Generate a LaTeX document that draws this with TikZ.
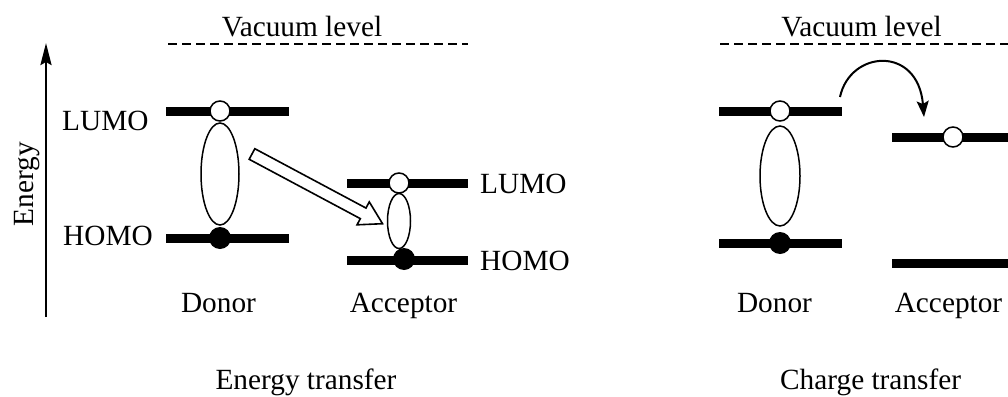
\documentclass[tikz,border=0pt]{standalone}
\usepackage{fontspec}
\setmainfont{Liberation Serif}
\usetikzlibrary{arrows.meta,shapes.geometric}
\tikzset{
  lvl/.style={line width=9pt},
  hole/.style={circle,draw,line width=1.5pt,fill=white,minimum size=20pt,inner sep=0pt},
  elec/.style={circle,fill=black,minimum size=22pt,inner sep=0pt},
  exc/.style={ellipse,draw,line width=1.5pt,inner sep=0pt},
  vac/.style={dashed,dash pattern=on 9pt off 5pt,line width=1.6pt},
  lbl/.style={font=\fontsize{29.3}{32}\selectfont,inner sep=0pt},
}
\begin{document}
\begin{tikzpicture}[x=1pt,y=-1pt]
\useasboundingbox (0,0) rectangle (1008,396);
% energy axis
\coordinate (ebot) at (46,317);
\coordinate (etop) at (46,43);
\draw[line width=2.6pt,-{Stealth[length=22pt,width=11pt,inset=3pt]}] (ebot) -- (etop);
\node[lbl,rotate=90] (energy) at (27.5,184) {Energy};
% ---------- Energy transfer ----------
\node[lbl,anchor=base] (vac1) at (302,37) {Vacuum level};
\coordinate (v1a) at (168,44); \coordinate (v1b) at (468,44);
\draw[vac] (v1a) -- (v1b);
% donor
\coordinate (dl1) at (166,111); \coordinate (dl2) at (289,111);
\coordinate (dh1) at (166,238); \coordinate (dh2) at (289,238);
\draw[lvl] (dl1) -- (dl2);
\draw[lvl] (dh1) -- (dh2);
\node[exc,minimum width=38pt,minimum height=102pt] (dex) at (220,174) {};
\node[hole] (dhole) at (220,111) {};
\node[elec] (delec) at (220,238) {};
\node[lbl,anchor=base west] (lumoL) at (62,130) {LUMO};
\node[lbl,anchor=base west] (homoL) at (63,245) {HOMO};
% acceptor
\coordinate (al1) at (347,183); \coordinate (al2) at (468,183);
\coordinate (ah1) at (347,260); \coordinate (ah2) at (468,260);
\draw[lvl] (al1) -- (al2);
\draw[lvl] (ah1) -- (ah2);
\node[exc,minimum width=23pt,minimum height=55pt] (aex) at (399,221) {};
\node[hole] (ahole) at (399,183) {};
\node[elec] (aelec) at (404,259) {};
\node[lbl,anchor=base west] (lumoR) at (480,193) {LUMO};
\node[lbl,anchor=base west] (homoR) at (480,270) {HOMO};
% hollow arrow
\begin{scope}[shift={(252,154)},rotate=-28.1]
\draw[line width=1.6pt,fill=white,line join=miter]
  (0,-6) -- (126,-6) -- (126,-13) -- (148,0) -- (126,13) -- (126,6) -- (0,6) -- cycle;
\end{scope}
\node[lbl,anchor=base] (don1) at (218.5,312) {Donor};
\node[lbl,anchor=base] (acc1) at (403.5,312) {Acceptor};
\node[lbl,anchor=base] (et) at (306,389) {Energy transfer};
% ---------- Charge transfer ----------
\node[lbl,anchor=base] (vac2) at (861.5,37) {Vacuum level};
\coordinate (v2a) at (720,44); \coordinate (v2b) at (1008,44);
\draw[vac] (v2a) -- (v2b);
\coordinate (cdl1) at (719,111); \coordinate (cdl2) at (842,111);
\coordinate (cdh1) at (719,243); \coordinate (cdh2) at (842,243);
\draw[lvl] (cdl1) -- (cdl2);
\draw[lvl] (cdh1) -- (cdh2);
\node[exc,minimum width=40pt,minimum height=100pt] (cdex) at (780,176) {};
\node[hole] (cdhole) at (780,111) {};
\node[elec] (cdelec) at (780,243) {};
\coordinate (cal1) at (892,137); \coordinate (cal2) at (1008,137);
\coordinate (cah1) at (892,263); \coordinate (cah2) at (1008,263);
\draw[lvl] (cal1) -- (cal2);
\draw[lvl] (cah1) -- (cah2);
\node[hole] (cahole) at (953,137) {};
\coordinate (cts) at (840,97);
\coordinate (cte) at (924,117);
\draw[line width=2pt,-{Stealth[length=16pt,width=12pt,inset=3pt]}] (cts) .. controls (850,50) and (918,45) .. (cte);
\node[lbl,anchor=base] (don2) at (774.5,312) {Donor};
\node[lbl,anchor=base] (acc2) at (948.5,312) {Acceptor};
\node[lbl,anchor=base] (ct) at (870.6,389) {Charge transfer};
\end{tikzpicture}
\end{document}
